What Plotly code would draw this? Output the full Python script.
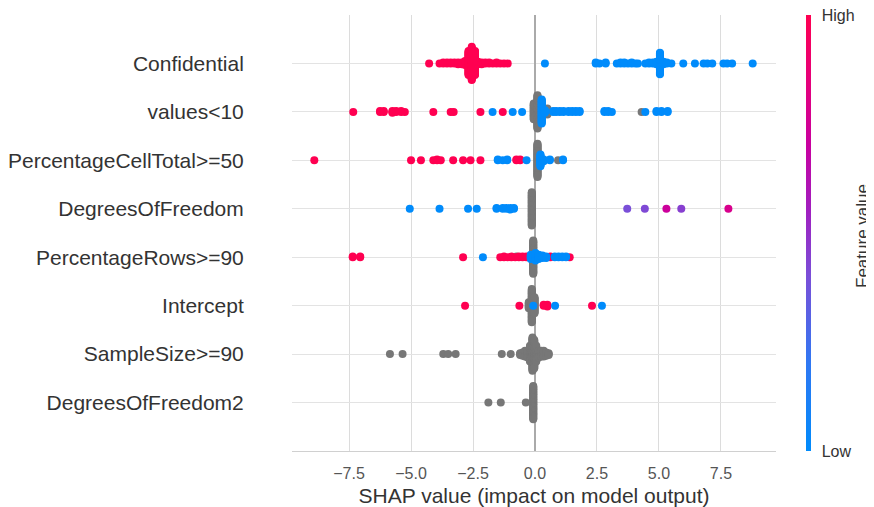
import numpy as np
import plotly.graph_objects as go

# Rows from bottom (0) to top (7)
features = ["DegreesOfFreedom2", "SampleSize>=90", "Intercept", "PercentageRows>=90",
            "DegreesOfFreedom", "PercentageCellTotal>=50", "values<10", "Confidential"]

x_tickvals = [-7.5, -5.0, -2.5, 0.0, 2.5, 5.0, 7.5]
x_ticktext = ["\u22127.5", "\u22125.0", "\u22122.5", "0.0", "2.5", "5.0", "7.5"]

# feature value: 1 = high (red), 0 = low (blue), None = missing (grey)
conf_shap = [-4.27, -3.85, -3.7, -3.55, -3.4, -3.25, -3.1, -2.95, -2.82, -2.68, -2.55, -2.42, -2.3, -2.15,
             -2.0, -1.85, -1.7, -1.55, -1.4, -1.25, -1.1,
             0.4, 2.45, 2.6, 2.85, 3.3, 3.45, 3.6, 3.75, 3.9, 4.05, 4.15, 4.45, 4.6, 4.75, 4.9, 5.04, 5.18,
             5.32, 5.5, 5.98, 6.45, 6.8, 6.95, 7.15, 7.6, 7.75, 7.95, 8.78]
conf_count = [1, 1, 2, 2, 2, 2, 3, 3, 6, 30, 41, 30, 4, 3, 2, 2, 1, 2, 1, 1, 1,
              1, 2, 1, 2, 1, 2, 2, 1, 2, 1, 1, 1, 2, 2, 4, 27, 4, 2, 1, 1, 1, 1, 1, 1, 1, 1, 1, 1]
conf_fval = [1] * 21 + [0] * 28

v10_shap = [-7.33, -6.25, -6.1, -5.75, -5.6, -5.4, -5.25, -4.1, -3.4, -3.28, -2.2, -1.3,
            -1.71, -0.9, -0.52, 0.27, 0.4, 0.73, 0.85, 1.0, 1.15, 1.35, 1.5, 1.65, 1.8, 2.8, 2.95, 3.1,
            4.45, 4.9, 5.1, 5.35,
            -0.05, 0.1, 0.5, 4.3]
v10_count = [1, 2, 2, 3, 2, 2, 1, 1, 1, 1, 1, 1,
             1, 1, 1, 30, 4, 2, 2, 2, 2, 2, 2, 2, 2, 2, 2, 1,
             1, 2, 2, 2,
             20, 41, 8, 1]
v10_fval = [1] * 12 + [0] * 20 + [None] * 4

pct_shap = [-8.9, -5.0, -4.6, -4.1, -3.95, -3.8, -3.3, -2.9, -2.6, -2.2, -0.75, -0.6,
            -1.5, -1.3, -1.12, -0.34, 0.22, 0.35, 0.6, 1.13,
            0.1, 0.93]
pct_count = [1, 1, 1, 1, 2, 1, 1, 1, 1, 1, 2, 2,
             2, 1, 2, 1, 15, 3, 2, 2,
             41, 1]
pct_fval = [1] * 12 + [0] * 8 + [None] * 2

dof_shap = [-5.05, -3.85, -2.7, -2.35, -1.55, -1.3, -1.15, -1.0, -0.85,
            3.72, 4.43, 5.3, 5.9, 7.8,
            -0.13]
dof_count = [1, 1, 1, 1, 2, 2, 2, 3, 2,
             1, 1, 1, 1, 1,
             41]
dof_fval = [0] * 9 + [0.4, 0.42, 0.72, 0.45, 0.78] + [None]

pr_shap = [-7.35, -7.05, -2.9, -1.4, -1.25, -1.1, -0.95, -0.8, -0.65, -0.5, -0.35, 0.62, 1.4,
           -2.1, -0.17, 0.02, 0.15, 0.3, 0.45, 0.8, 0.95, 1.1, 1.25,
           -0.07, -0.75]
pr_count = [2, 2, 1, 1, 2, 1, 2, 1, 2, 2, 2, 2, 1,
            1, 6, 10, 6, 4, 3, 2, 2, 2, 2,
            41, 1]
pr_fval = [1] * 13 + [0] * 10 + [None] * 2

icpt_shap = [-2.82, -0.63, 0.35, 0.5, 2.3,
             -0.07, 0.81, 2.7,
             -0.25, -0.13, -0.02]
icpt_count = [1, 1, 2, 3, 1,
              1, 1, 1,
              8, 41, 20]
icpt_fval = [1] * 5 + [0] * 3 + [None] * 3

ss_shap = [-5.85, -5.34, -3.7, -3.5, -3.2, -1.34, -0.98, -0.6, -0.5, -0.4, -0.3, -0.2, -0.1, -0.03,
           0.05, 0.15, 0.25, 0.35, 0.45, 0.55]
ss_count = [1, 1, 1, 1, 1, 1, 1, 3, 5, 8, 9, 20, 41, 35, 20, 9, 8, 8, 5, 3]
ss_fval = [None] * 20

dof2_shap = [-1.88, -1.38, -0.37, -0.07]
dof2_count = [1, 1, 1, 41]
dof2_fval = [None] * 4

rows = [(dof2_shap, dof2_count, dof2_fval), (ss_shap, ss_count, ss_fval),
        (icpt_shap, icpt_count, icpt_fval), (pr_shap, pr_count, pr_fval),
        (dof_shap, dof_count, dof_fval), (pct_shap, pct_count, pct_fval),
        (v10_shap, v10_count, v10_fval), (conf_shap, conf_count, conf_fval)]


def beeswarm(shap_vals, counts, fvals, row, nbins=100, row_height=0.4):
    s = np.repeat(np.array(shap_vals, float), counts)
    f = np.repeat(np.array([np.nan if v is None else v for v in fvals], float), counts)
    quant = np.round(nbins * (s - s.min()) / (s.max() - s.min() + 1e-8))
    inds = np.argsort(quant, kind="stable")
    ys = np.zeros(len(s))
    layer = 0
    last = -1
    for i in inds:
        if quant[i] != last:
            layer = 0
        ys[i] = np.ceil(layer / 2) * ((layer % 2) * 2 - 1)
        layer += 1
        last = quant[i]
    ys *= 0.9 * (row_height / np.max(ys + 1))
    return s, row + ys, f


gx, gy, cx, cy, cf = [], [], [], [], []
for r, (sv, ct, fv) in enumerate(rows):
    s, y, f = beeswarm(sv, ct, fv, r)
    m = np.isnan(f)
    gx += list(s[m]); gy += list(y[m])
    cx += list(s[~m]); cy += list(y[~m]); cf += list(f[~m])

colorscale = [[0.0, "#008bfb"], [0.2, "#2f78f3"], [0.4, "#7a4fd8"], [0.55, "#a020c0"],
              [0.7, "#c800a0"], [0.85, "#e6007a"], [1.0, "#ff0051"]]

# the page body adds an 8px offset, so the figure is drawn 8px smaller
W, H = 866, 499
PL, PR_, PT, PB = 284, 768, 7, 443
PW, PH = PR_ - PL, PB - PT

fig = go.Figure()
fig.add_trace(go.Scatter(x=gx, y=gy, mode="markers", hoverinfo="skip",
                         marker=dict(size=8, color="#777777", line=dict(width=0))))
fig.add_trace(go.Scatter(
    x=cx, y=cy, mode="markers", hoverinfo="skip",
    marker=dict(size=8, color=cf, colorscale=colorscale, cmin=0, cmax=1, line=dict(width=0),
                showscale=True,
                colorbar=dict(x=(798 - PL) / PW, xanchor="left", xpad=0,
                              y=0.5, yanchor="middle", ypad=0,
                              lenmode="fraction", len=1.0, thickness=5, outlinewidth=0,
                              tickvals=[0, 1], ticktext=["Low", "High"],
                              ticklabeloverflow="allow",
                              ticks="outside", ticklen=8, tickcolor="rgba(0,0,0,0)",
                              tickfont=dict(size=16, color="#333333")))))

fig.add_annotation(xref="paper", yref="paper", x=(854 - PL) / PW, y=(PB - 228) / PH,
                   xanchor="center", yanchor="middle",
                   text="Feature value", textangle=-90, showarrow=False,
                   font=dict(size=17, color="#333333"))

fig.update_layout(
    width=W, height=H, margin=dict(l=PL, r=W - PR_, t=PT, b=H - PB, autoexpand=False),
    paper_bgcolor="white", plot_bgcolor="white", showlegend=False,
    font=dict(family="Liberation Sans, Arial, sans-serif"),
    xaxis=dict(range=[-9.8, 9.72], tickvals=x_tickvals, ticktext=x_ticktext, automargin=False,
               showgrid=True, gridcolor="#dcdcdc", gridwidth=1.3,
               zeroline=True, zerolinecolor="#aaaaaa", zerolinewidth=2,
               showline=True, linecolor="#d0d0d0", linewidth=1.3,
               ticks="outside", ticklen=8, tickcolor="rgba(0,0,0,0)",
               tickfont=dict(size=16, color="#555555"),
               title=dict(text="SHAP value (impact on model output)", standoff=6,
                          font=dict(size=21, color="#333333"))),
    yaxis=dict(range=[-1, 8], tickvals=list(range(8)), ticktext=features, automargin=False,
               showgrid=True, gridcolor="#e3e3e3", gridwidth=1.3, zeroline=False,
               ticks="outside", ticklen=43, tickcolor="rgba(0,0,0,0)",
               tickfont=dict(size=21, color="#333333")),
)

fig.write_html("out.html")
